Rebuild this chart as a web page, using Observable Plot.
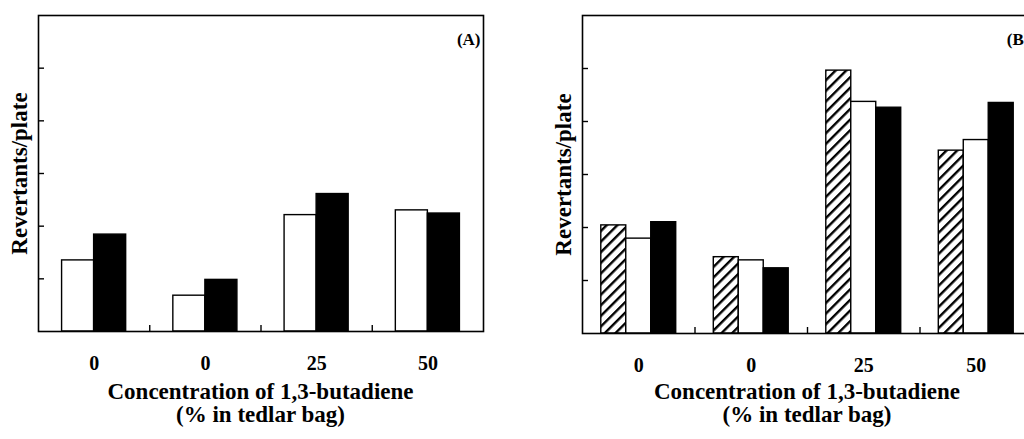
<!DOCTYPE html>
<html>
<head>
<meta charset="utf-8">
<script src="https://cdn.jsdelivr.net/npm/d3@7"></script>
<script src="https://cdn.jsdelivr.net/npm/@observablehq/plot@0.6"></script>
<style>
  html, body { margin: 0; padding: 0; background: #fff; }
  body { width: 1024px; height: 439px; overflow: hidden; position: relative; font-family: "Liberation Serif", "Times New Roman", serif; }
  .panel { position: absolute; top: 0; height: 439px; overflow: hidden; }
  .panel svg { max-width: none !important; }
  .caption { position: absolute; text-align: center; font-weight: bold; font-size: 23px; line-height: 23px; color: #000; white-space: nowrap; }
</style>
</head>
<body>
<div id="pA" class="panel" style="left:0;width:512px"></div>
<div id="pB" class="panel" style="left:512px;width:512px"></div>
<script>
// ---- data (y in units of the unlabeled tick spacing) ----
const groupLabels = ["0", "0", "25", "50"];
const yTicks = [1, 2, 3, 4, 5];
const yLabel = "Revertants/plate";
const xTitle1 = "Concentration of 1,3-butadiene";
const xTitle2 = "(% in tedlar bag)";

// Panel A: open and solid bars
const panelA_open  = [1.35, 0.68, 2.21, 2.30];
const panelA_solid = [1.84, 0.98, 2.61, 2.24];

// Panel B: hatched, open and solid bars
const panelB_hatched = [2.04, 1.44, 4.96, 3.45];
const panelB_open    = [1.79, 1.38, 4.37, 3.65];
const panelB_solid   = [2.10, 1.23, 4.26, 4.35];

function makePanel({series, fills, barWidth, tag, width, marginLeft, marginRight, marginTop, marginBottom, height}) {
  const n = series.length;
  const rows = series.flatMap((vals, s) => vals.map((v, g) => ({group: g, series: s, value: v})));
  const x1 = d => d.group + 0.5 - n * barWidth / 2 + d.series * barWidth;
  const x2 = d => x1(d) + barWidth;
  const marks = [];
  for (let s = 0; s < n; s++) {
    marks.push(Plot.rect(rows.filter(d => d.series === s), {
      x1, x2, y1: 0, y2: "value",
      fill: fills[s], stroke: "black", strokeWidth: 1.4
    }));
  }
  marks.push(
    Plot.frame({stroke: "black", strokeWidth: 1.6}),
    Plot.axisY({ticks: yTicks, tickSize: -6, tickFormat: () => "", label: null, strokeWidth: 1.4}),
    Plot.axisX({ticks: [1, 2, 3], tickSize: -6, tickFormat: () => "", label: null, strokeWidth: 1.4}),
    Plot.axisX({ticks: [0.5, 1.5, 2.5, 3.5], tickSize: 0, tickPadding: 24,
      tickFormat: d => groupLabels[Math.floor(d)], label: null, fontSize: 20, fontWeight: "bold"}),
    Plot.text([yLabel], {frameAnchor: "left", rotate: -90, textAnchor: "middle", dx: -19,
      fontSize: 23, fontWeight: "bold", fill: "black"}),
    Plot.text([tag], {frameAnchor: "top-right", dx: -3, dy: 17, fontSize: 17, fontWeight: "bold", fill: "black"})
  );
  return Plot.plot({
    width, height, marginLeft, marginRight, marginTop, marginBottom,
    x: {domain: [0, 4]},
    y: {domain: [0, 6]},
    style: {fontFamily: "'Liberation Serif', 'Times New Roman', serif", color: "black", background: "white", overflow: "visible", maxWidth: "none"},
    marks
  });
}

// Panel A
const svgA = makePanel({
  series: [panelA_open, panelA_solid], fills: ["white", "black"], barWidth: 0.288, tag: "(A)",
  width: 512, height: 375, marginLeft: 38, marginRight: 29, marginTop: 15, marginBottom: 44
});
document.getElementById("pA").appendChild(svgA);

// Panel B
const svgB = makePanel({
  series: [panelB_hatched, panelB_open, panelB_solid], fills: ["url(#hatchB)", "white", "black"], barWidth: 0.222, tag: "(B)",
  width: 560, height: 375, marginLeft: 70, marginRight: 40, marginTop: 15, marginBottom: 42
});
d3.select(svgB).insert("defs", ":first-child").html(
  '<pattern id="hatchB" patternUnits="userSpaceOnUse" width="7.5" height="7.5" patternTransform="rotate(45)">' +
  '<rect width="7.5" height="7.5" fill="white"></rect><rect width="2.4" height="7.5" fill="black"></rect></pattern>'
);
document.getElementById("pB").appendChild(svgB);

// Captions (two-line x-axis title under each panel)
function caption(parentId, left, width) {
  const div = document.createElement("div");
  div.className = "caption";
  div.style.left = left + "px";
  div.style.width = width + "px";
  div.style.top = "380px";
  div.innerHTML = xTitle1 + "<br>" + xTitle2;
  document.getElementById(parentId).appendChild(div);
}
caption("pA", 38, 445);
caption("pB", 70, 450);
</script>
</body>
</html>
